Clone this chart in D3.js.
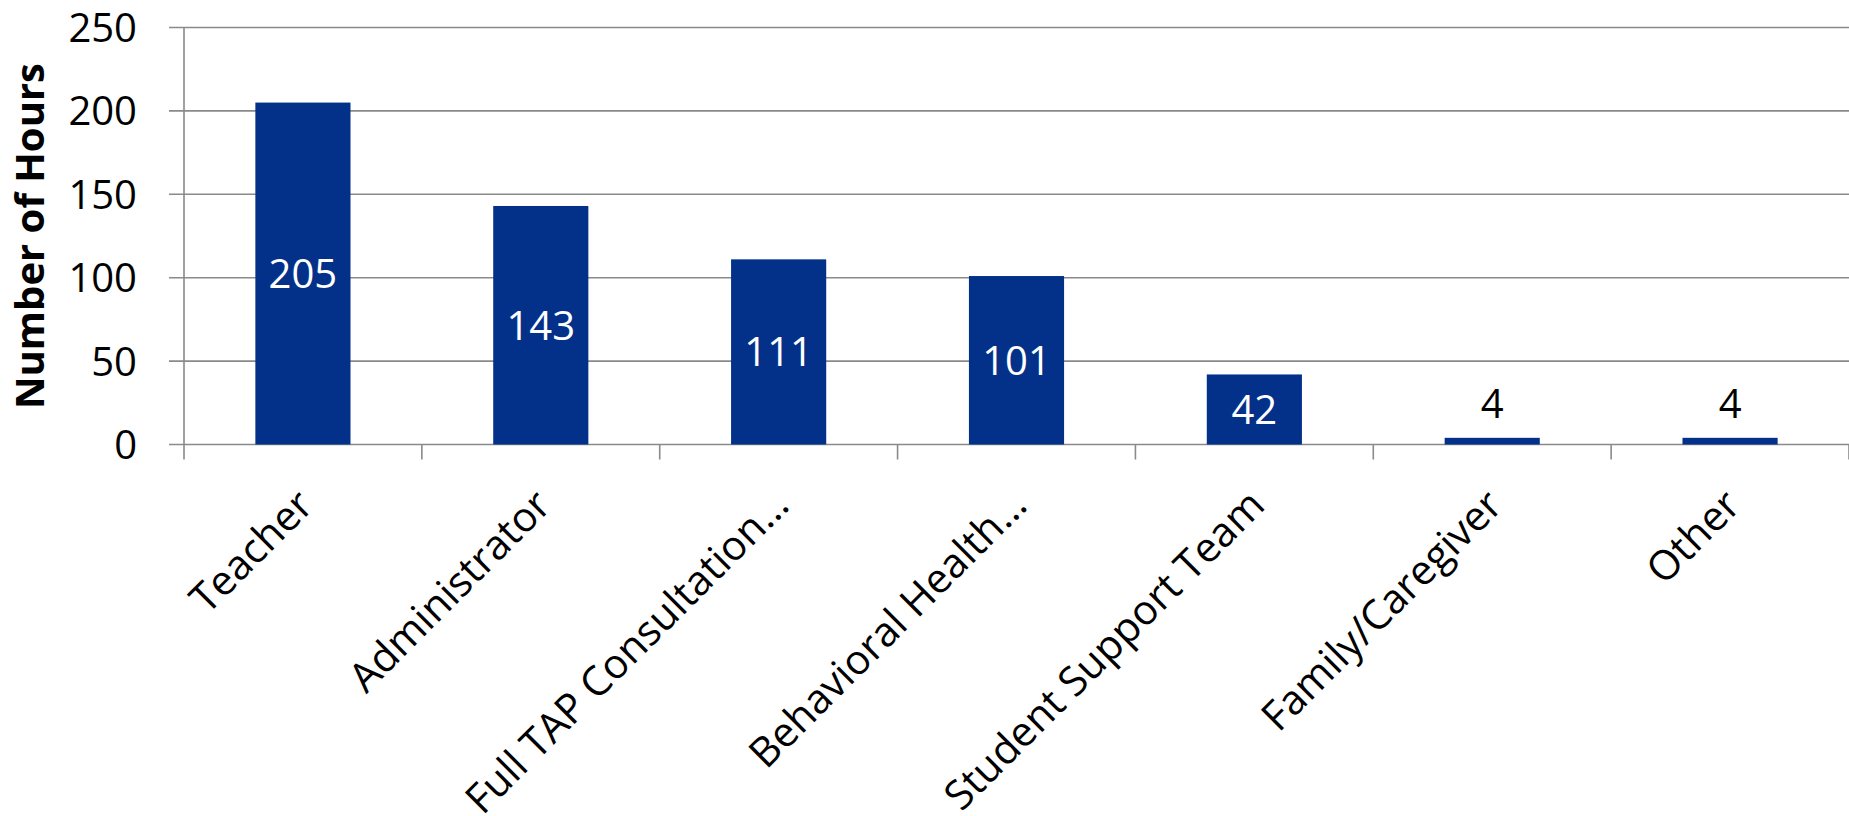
<!DOCTYPE html>
<html>
<head>
<meta charset="utf-8">
<script src="https://cdn.jsdelivr.net/npm/d3@7"></script>
<style>
  html, body { margin: 0; padding: 0; background: #fff; }
  svg { display: block; font-family: "Open Sans", Lato, sans-serif; }
</style>
</head>
<body>
<svg id="chart" width="1849" height="816"></svg>
<script>
// Hours of consultation by recipient role
const categories = ["Teacher", "Administrator", "Full TAP Consultation\u2026", "Behavioral Health\u2026",
                    "Student Support Team", "Family/Caregiver", "Other"];
const hours = [205, 143, 111, 101, 42, 4, 4];
const yTicks = [0, 50, 100, 150, 200, 250];
const yTitle = "Number of Hours";

const svg = d3.select("#chart");
const barColor = "#03318a";
const gridColor = "#8a8a8a";

const plot = { left: 184, right: 1849, top: 27.5, bottom: 444.5 };

const x = d3.scaleBand().domain(categories).range([plot.left, plot.right]).padding(0);
const y = d3.scaleLinear().domain([0, 250]).range([plot.bottom, plot.top]);
const barW = x.bandwidth() * 0.4;

// horizontal gridlines with short outward ticks on the left
svg.append("g").selectAll("line").data(yTicks).join("line")
  .attr("x1", plot.left - 15).attr("x2", plot.right)
  .attr("y1", d => y(d)).attr("y2", d => y(d))
  .attr("stroke", gridColor).attr("stroke-width", 1.6);

// vertical axis line
svg.append("line")
  .attr("x1", plot.left).attr("x2", plot.left)
  .attr("y1", plot.top).attr("y2", plot.bottom + 15)
  .attr("stroke", gridColor).attr("stroke-width", 1.6);

// category tick marks between bands
const bounds = categories.map(c => x(c)).concat([plot.right]);
svg.append("g").selectAll("line").data(bounds.slice(1)).join("line")
  .attr("x1", d => d).attr("x2", d => d)
  .attr("y1", plot.bottom).attr("y2", plot.bottom + 15)
  .attr("stroke", gridColor).attr("stroke-width", 1.6);

// y tick labels
svg.append("g").selectAll("text").data(yTicks).join("text")
  .attr("x", 137).attr("y", d => y(d)).attr("dy", "0.36em")
  .attr("text-anchor", "end").attr("font-size", 40).attr("fill", "#000")
  .text(d => d);

// y axis title
svg.append("text")
  .attr("transform", `translate(30,${(plot.top + plot.bottom) / 2}) rotate(-90)`)
  .attr("dy", "0.36em").attr("text-anchor", "middle")
  .attr("font-size", 40).attr("font-weight", "bold").attr("fill", "#000")
  .text(yTitle);

const data = categories.map((c, i) => ({ c, v: hours[i] }));

// bars
svg.append("g").selectAll("rect").data(data).join("rect")
  .attr("x", d => x(d.c) + (x.bandwidth() - barW) / 2)
  .attr("width", barW)
  .attr("y", d => y(d.v))
  .attr("height", d => y(0) - y(d.v))
  .attr("fill", barColor);

// value labels: centred inside tall bars, above short ones
svg.append("g").selectAll("text").data(data).join("text")
  .attr("x", d => x(d.c) + x.bandwidth() / 2)
  .attr("y", d => (y(0) - y(d.v)) > 50 ? (y(d.v) + y(0)) / 2 : y(d.v) - 34)
  .attr("dy", "0.36em").attr("text-anchor", "middle").attr("font-size", 40)
  .attr("fill", d => (y(0) - y(d.v)) > 50 ? "#fff" : "#000")
  .text(d => d.v);

// rotated category labels
svg.append("g").selectAll("text").data(categories).join("text")
  .attr("transform", d => `translate(${x(d) + x.bandwidth() / 2 + 2},497) rotate(-45)`)
  .attr("dy", "0.36em").attr("text-anchor", "end").attr("font-size", 41).attr("fill", "#000")
  .text(d => d);
</script>
</body>
</html>
